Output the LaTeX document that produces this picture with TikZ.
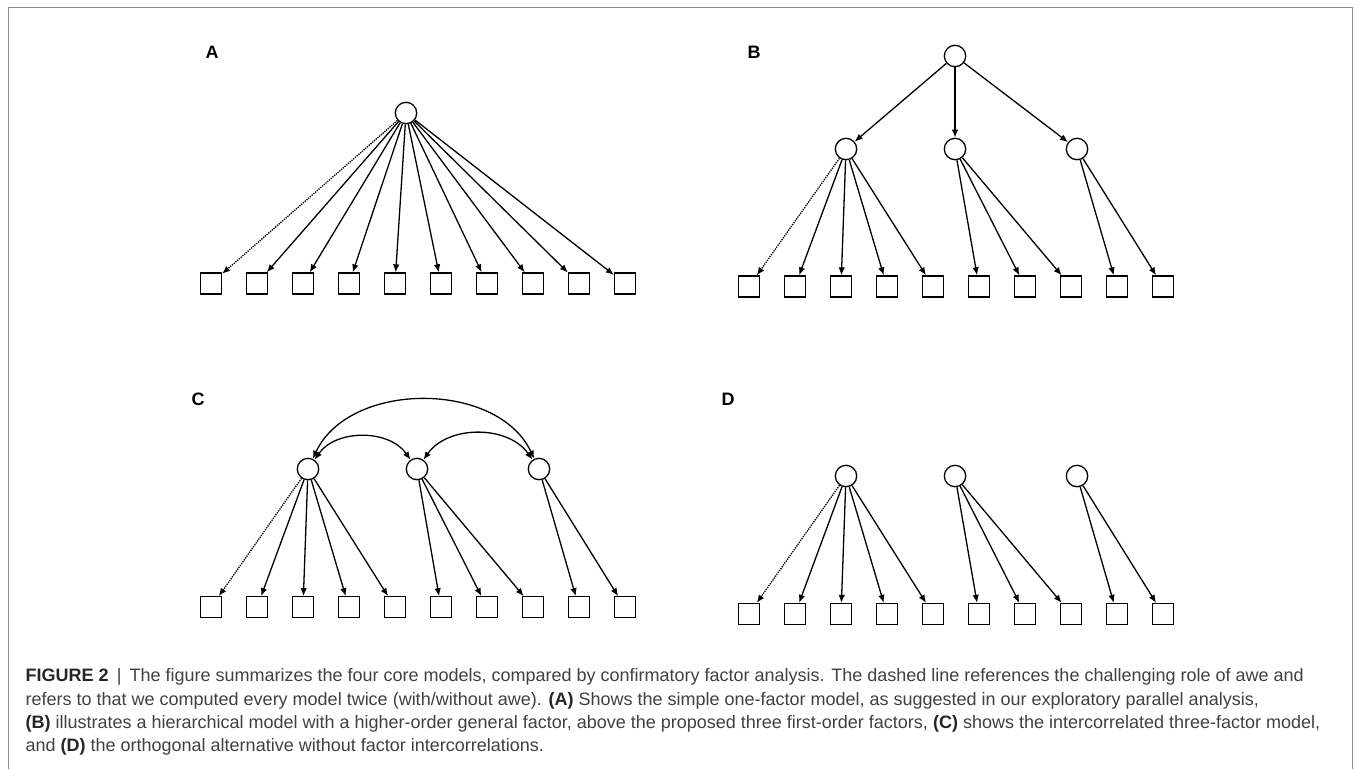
\documentclass[tikz,border=0pt]{standalone}
\usepackage{fontspec}
\setmainfont{Liberation Sans}
\usetikzlibrary{arrows.meta}
\definecolor{captext}{HTML}{404040}
\definecolor{framegray}{HTML}{8C8C8C}

\begin{document}
\begin{tikzpicture}[x=1pt,y=-1pt,line width=1.3pt,
  >={Latex[length=8pt,width=6.5pt]},
  latent/.style={circle,draw,minimum size=21.4pt,inner sep=0pt},
  item/.style={rectangle,draw,minimum size=21pt,inner sep=0pt},
  load/.style={->},
  fixed/.style={->,densely dotted},
  cov/.style={<->},
  panel/.style={font=\fontsize{18}{21}\selectfont\bfseries}]
  \useasboundingbox (0,0) rectangle (1356,769);
  \draw[framegray,line width=1pt] (8,769) -- (8,7) -- (1352,7) -- (1352,769);

  % A: one-factor model
  \node[panel] (labA) at (212,52) {A};
  \node[latent] (ag) at (406,113) {};
  \foreach \i in {1,...,10}
    \node[item] (a\i) at ({165+46*\i},283.5) {};
  \draw[fixed] (ag) -- (a1);
  \foreach \i in {2,...,10}
    \draw[load] (ag) -- (a\i);

  % B: hierarchical model
  \node[panel] (labB) at (754,52) {B};
  \node[latent] (bg) at (955,56) {};
  \node[latent] (bf1) at (846,149) {};
  \node[latent] (bf2) at (955,149) {};
  \node[latent] (bf3) at (1077,149) {};
  \foreach \i in {1,...,10}
    \node[item] (b\i) at ({703+46*\i},286.5) {};
  \foreach \f in {1,2,3}
    \draw[load] (bg) -- (bf\f);
  \draw[fixed] (bf1) -- (b1);
  \foreach \i in {2,...,5}
    \draw[load] (bf1) -- (b\i);
  \foreach \i in {6,7,8}
    \draw[load] (bf2) -- (b\i);
  \foreach \i in {9,10}
    \draw[load] (bf3) -- (b\i);

  % C: intercorrelated three-factor model
  \node[panel] (labC) at (198,399) {C};
  \node[latent] (cf1) at (308,469) {};
  \node[latent] (cf2) at (417,469) {};
  \node[latent] (cf3) at (539,469) {};
  \foreach \i in {1,...,10}
    \node[item] (c\i) at ({165+46*\i},607.3) {};
  \draw[cov] (cf1) to[bend left=55] (cf2);
  \draw[cov] (cf2) to[bend left=55] (cf3);
  \draw[cov] (cf1) to[bend left=65] (cf3);
  \draw[fixed] (cf1) -- (c1);
  \foreach \i in {2,...,5}
    \draw[load] (cf1) -- (c\i);
  \foreach \i in {6,7,8}
    \draw[load] (cf2) -- (c\i);
  \foreach \i in {9,10}
    \draw[load] (cf3) -- (c\i);

  % D: orthogonal three-factor model
  \node[panel] (labD) at (728,399) {D};
  \node[latent] (df1) at (846,476) {};
  \node[latent] (df2) at (955,476) {};
  \node[latent] (df3) at (1077,476) {};
  \foreach \i in {1,...,10}
    \node[item] (d\i) at ({703+46*\i},614) {};
  \draw[fixed] (df1) -- (d1);
  \foreach \i in {2,...,5}
    \draw[load] (df1) -- (d\i);
  \foreach \i in {6,7,8}
    \draw[load] (df2) -- (d\i);
  \foreach \i in {9,10}
    \draw[load] (df3) -- (d\i);

  % caption
  \node[anchor=north west,inner sep=0pt,align=left,text=captext,
    font=\fontsize{18}{23.3}\selectfont] (caption) at (25,668)
    {\textbf{\color{black!85}FIGURE 2}\hspace{0.45em}|\hspace{0.45em}The figure summarizes the four core models, compared by confirmatory factor analysis. The dashed line references the challenging role of awe and\\
     refers to that we computed every model twice (with/without awe). \textbf{\color{black!85}(A)} Shows the simple one-factor model, as suggested in our exploratory parallel analysis,\\
     \textbf{\color{black!85}(B)} illustrates a hierarchical model with a higher-order general factor, above the proposed three first-order factors, \textbf{\color{black!85}(C)} shows the intercorrelated three-factor model,\\
     and \textbf{\color{black!85}(D)} the orthogonal alternative without factor intercorrelations.};
\end{tikzpicture}
\end{document}
